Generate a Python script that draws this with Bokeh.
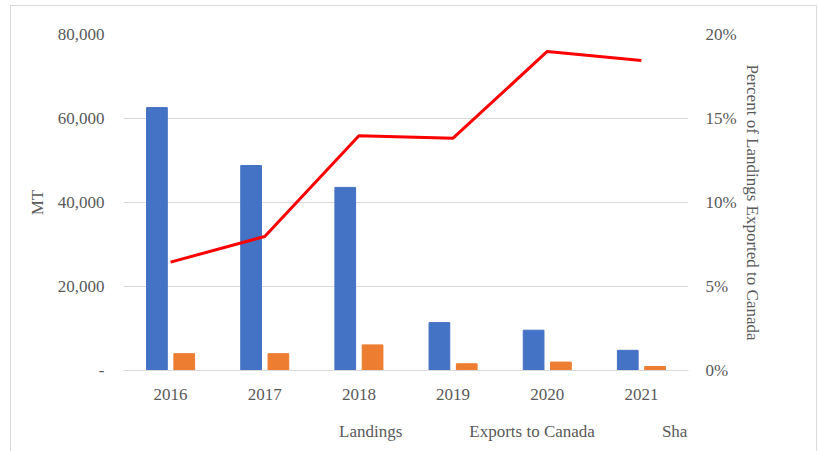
from bokeh.plotting import figure
from bokeh.layouts import column
from bokeh.models import (FactorRange, Range1d, LinearAxis, FixedTicker, NumeralTickFormatter,
                          PrintfTickFormatter, Legend, LegendItem, ColumnDataSource)
from bokeh.transform import dodge
from bokeh.embed import file_html
from bokeh.resources import INLINE

years = ["2016", "2017", "2018", "2019", "2020", "2021"]
landings = [62600, 48800, 43600, 11400, 9600, 4800]
exports = [4000, 4000, 6100, 1600, 2000, 950]
share_pct = [6.45, 7.98, 13.97, 13.83, 18.99, 18.45]
left_ticks = [0, 20000, 40000, 60000, 80000]
right_ticks = [0, 5, 10, 15, 20]
series_names = ["Landings", "Exports to Canada", "Share Canada"]

FONT = "Liberation Serif"
TXT = "#595959"
GRID = "#d9d9d9"
FS = "17px"
BLUE, ORANGE, RED = "#4472C4", "#ED7D31", "#FF0000"

src = ColumnDataSource(dict(year=years, landings=landings, exports=exports, share=share_pct))

p = figure(x_range=FactorRange(*years, range_padding=0), y_range=Range1d(0, 80000),
           frame_width=565, frame_height=336, output_backend="svg", toolbar_location=None,
           min_border_left=112, min_border_right=128, min_border_top=28, min_border_bottom=60)
p.outline_line_color = None
p.background_fill_color = "white"
p.extra_y_ranges = {"pct": Range1d(0, 20)}

p.vbar(x=dodge("year", -0.145, range=p.x_range), top="landings", width=0.22,
       source=src, color=BLUE)
p.vbar(x=dodge("year", 0.145, range=p.x_range), top="exports", width=0.22,
       source=src, color=ORANGE)
p.line(x="year", y="share", source=src, y_range_name="pct", line_color=RED, line_width=3)

ax = p.yaxis[0]
ax.ticker = FixedTicker(ticks=left_ticks)
ax.formatter = NumeralTickFormatter(format="0,0")
ax.major_label_overrides = {0: "-"}
ax.axis_line_color = None
ax.major_tick_line_color = None
ax.minor_tick_line_color = None
ax.major_label_standoff = 13
ax.axis_label = "MT"
ax.axis_label_standoff = 8

rax = LinearAxis(y_range_name="pct", ticker=FixedTicker(ticks=right_ticks),
                 formatter=PrintfTickFormatter(format="%d%%"),
                 axis_label="Percent of Landings Exported to Canada")
rax.axis_line_color = None
rax.major_tick_line_color = None
rax.minor_tick_line_color = None
rax.major_label_standoff = 11
rax.axis_label_standoff = 3
p.add_layout(rax, "right")

xa = p.xaxis[0]
xa.axis_line_color = GRID
xa.major_tick_line_color = None
xa.minor_tick_line_color = None
xa.major_label_standoff = 12

for a in [ax, rax, xa]:
    a.major_label_text_font = FONT
    a.major_label_text_font_size = FS
    a.major_label_text_color = TXT
    a.axis_label_text_font = FONT
    a.axis_label_text_font_size = FS
    a.axis_label_text_color = TXT
    a.axis_label_text_font_style = "normal"

p.xgrid.grid_line_color = None
p.ygrid.grid_line_color = GRID
p.ygrid.ticker = FixedTicker(ticks=left_ticks)

# legend strip below the chart
p2 = figure(width=805, height=40, x_range=Range1d(0, 1), y_range=Range1d(0, 1),
            output_backend="svg", toolbar_location=None, x_axis_location=None,
            y_axis_location=None, min_border=0, styles={"margin-top": "-12px"})
p2.grid.visible = False
p2.outline_line_color = None
p2.background_fill_color = None
p2.border_fill_color = None
d1 = p2.vbar(x=[], top=[], width=0.1, color=BLUE)
d2 = p2.vbar(x=[], top=[], width=0.1, color=ORANGE)
d3 = p2.line(x=[], y=[], line_color=RED, line_width=3)

legend = Legend(items=[LegendItem(label=series_names[0], renderers=[d1]),
                       LegendItem(label=series_names[1], renderers=[d2]),
                       LegendItem(label=series_names[2], renderers=[d3])],
                orientation="horizontal", location=(179, 16),
                glyph_width=28, glyph_height=9, label_height=20, label_standoff=9,
                spacing=30, padding=0, margin=0,
                label_text_font=FONT, label_text_font_size=FS, label_text_color=TXT,
                border_line_color=None, background_fill_alpha=0)
p2.add_layout(legend, "center")

layout = column(p, p2, styles={"border": "1px solid #d9d9d9", "margin-top": "5px",
                               "margin-left": "10px", "margin-bottom": "-60px"})

open("out.html", "w").write(file_html(layout, INLINE))
